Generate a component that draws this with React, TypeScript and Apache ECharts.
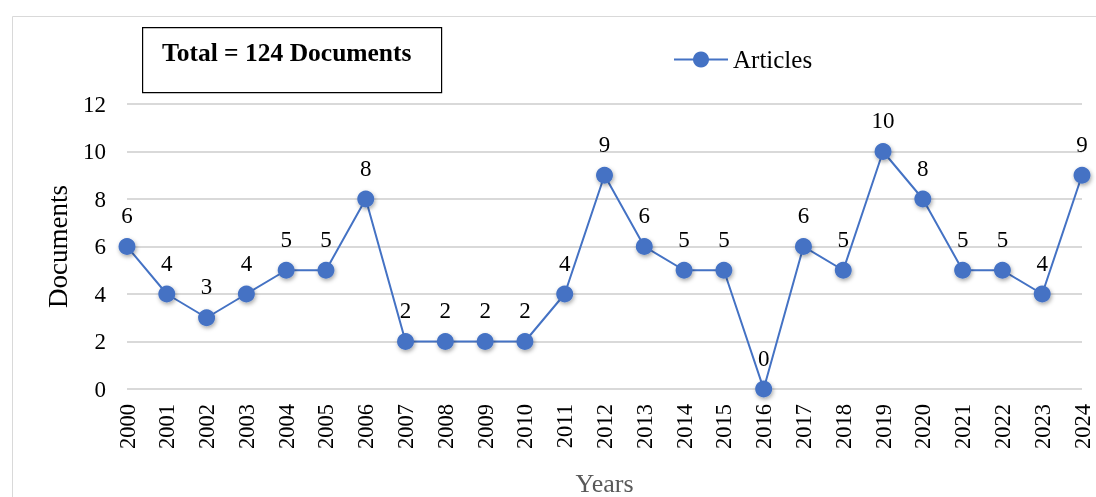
import React, { useEffect, useRef } from "react";
import * as echarts from "echarts";

const years = ["2000","2001","2002","2003","2004","2005","2006","2007","2008","2009","2010","2011","2012","2013","2014","2015","2016","2017","2018","2019","2020","2021","2022","2023","2024"];
const articles = [6,4,3,4,5,5,8,2,2,2,2,4,9,6,5,5,0,6,5,10,8,5,5,4,9];
const seriesName = "Articles";
const totalText = "Total = 124 Documents";
const yTitle = "Documents";
const xTitle = "Years";

const FONT = "'Liberation Serif', 'DejaVu Serif', serif";
const BLUE = "#4472C4";

export default function App() {
  const ref = useRef<HTMLDivElement>(null);
  useEffect(() => {
    const chart = echarts.init(ref.current!, null, { renderer: "svg" });
    chart.setOption({
      animation: false,
      textStyle: { fontFamily: FONT },
      grid: { left: 127, right: 14, top: 104, bottom: 108, containLabel: false, outerBoundsMode: "none" },
      legend: {
        data: [seriesName],
        left: 673,
        top: 47,
        padding: 0,
        itemWidth: 54,
        itemHeight: 20,
        itemGap: 6,
        textStyle: { fontFamily: FONT, fontSize: 25, color: "#000" },
      },
      xAxis: {
        type: "category",
        data: years,
        boundaryGap: false,
        name: xTitle,
        nameLocation: "middle",
        nameGap: 81,
        nameTextStyle: { fontFamily: FONT, fontSize: 26, color: "#595959" },
        axisLine: { show: false },
        axisTick: { show: false },
        axisLabel: { rotate: 90, fontSize: 22.5, color: "#000", fontFamily: FONT, margin: 15, interval: 0 },
      },
      yAxis: {
        type: "value",
        min: 0,
        max: 12,
        interval: 2,
        name: yTitle,
        nameLocation: "middle",
        nameGap: 56,
        nameTextStyle: { fontFamily: FONT, fontSize: 27, color: "#000" },
        axisLine: { show: false },
        axisTick: { show: false },
        axisLabel: { fontSize: 23, color: "#000", fontFamily: FONT, margin: 21 },
        splitLine: { lineStyle: { color: "#d9d9d9", width: 2 } },
      },
      series: [
        {
          name: seriesName,
          type: "line",
          data: articles,
          symbol: "circle",
          symbolSize: 17,
          lineStyle: { color: BLUE, width: 2 },
          itemStyle: { color: BLUE, shadowBlur: 4, shadowColor: "rgba(0,0,0,0.35)", shadowOffsetX: 1, shadowOffsetY: 2 },
          label: { show: true, position: "top", distance: 11, fontSize: 23, color: "#000", fontFamily: FONT },
        },
      ],
      graphic: [
        {
          type: "rect",
          left: 10,
          top: 14,
          shape: { width: 1100, height: 500 },
          style: { fill: "none", stroke: "#d9d9d9", lineWidth: 1 },
          silent: true,
        },
        {
          type: "rect",
          left: 142,
          top: 27,
          shape: { width: 299, height: 65 },
          style: { fill: "#fff", stroke: "#000", lineWidth: 1.2 },
        },
        {
          type: "text",
          left: 162,
          top: 39,
          style: { text: totalText, font: `bold 25.5px ${FONT}`, fill: "#000" },
        },
      ],
    });
    return () => chart.dispose();
  }, []);
  return <div ref={ref} style={{ width: 1096, height: 497, position: "fixed", left: 0, top: 0 }} />;
}
